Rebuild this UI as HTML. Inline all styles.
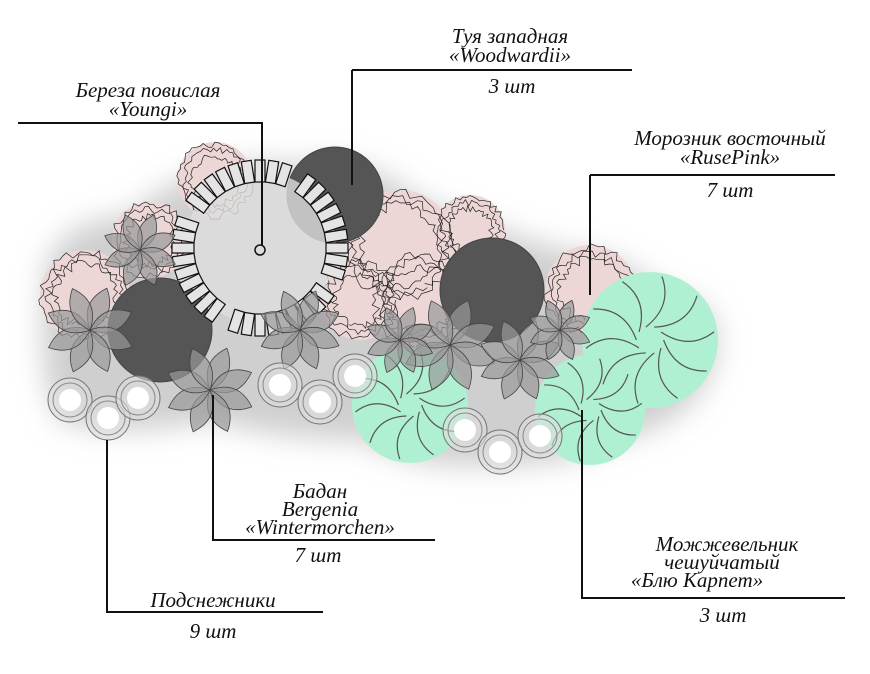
<!DOCTYPE html>
<html><head><meta charset="utf-8"><style>
html,body{margin:0;padding:0;background:#fff;width:870px;height:674px;overflow:hidden}
svg{display:block}
text{font-family:"Liberation Serif",serif;font-style:italic;font-size:21px;fill:#111}
</style></head><body>
<svg id="s" width="870" height="674" viewBox="0 0 870 674" xmlns="http://www.w3.org/2000/svg">
<defs>
<filter id="b" x="-20%" y="-20%" width="140%" height="140%"><feGaussianBlur stdDeviation="14"/></filter>
</defs>
<path d="M45 270 Q60 220 130 215 Q200 150 300 165 Q360 150 420 200 Q500 230 560 250 Q620 250 660 290 Q730 300 715 360 Q700 420 620 440 Q560 470 480 465 Q420 470 360 440 Q280 440 210 420 Q120 440 60 420 Q35 380 45 270Z" fill="#cfcfcf" filter="url(#b)"/>
<g id="pink" fill="#ecd6d6">
<circle cx="85" cy="295" r="45"/><circle cx="150" cy="240" r="38"/><circle cx="215" cy="180" r="38"/>
<circle cx="400" cy="245" r="55"/><circle cx="420" cy="300" r="48"/><circle cx="590" cy="290" r="45"/>
<circle cx="470" cy="230" r="35"/><circle cx="360" cy="300" r="40"/>
</g>
<g id="scrib" fill="none" stroke="#222" stroke-width="0.7"></g>
<g fill="#555" stroke="#444">
<circle cx="335" cy="195" r="48"/><circle cx="160" cy="330" r="52"/><circle cx="492" cy="290" r="52"/>
</g>
<g id="birch"><circle cx="260" cy="248" r="76" fill="#ddd" fill-opacity="0.8"/></g>
<g id="green" fill="#b0f0d2">
<circle cx="650" cy="340" r="68"/><circle cx="410" cy="405" r="58"/><circle cx="590" cy="410" r="55"/>
</g>
<g id="swirl" fill="none" stroke="#555" stroke-width="1.2"></g>
<g id="stars" fill="#999" fill-opacity="0.7" stroke="#444" stroke-width="0.8"></g>
<g id="snow"></g>
<g stroke="#111" stroke-width="2" fill="none">
<path d="M352 70H632M352 70V185"/>
<path d="M18 123H262V246"/><circle cx="260" cy="250" r="5" stroke-width="1.5"/>
<path d="M590 175H835M590 175V295"/>
<path d="M213 395V540H435"/>
<path d="M107 440V612H323"/>
<path d="M582 410V598H845"/>
</g>
<text x="510" y="43" text-anchor="middle">Туя западная</text>
<text x="510" y="62" text-anchor="middle">«Woodwardii»</text>
<text x="512" y="93" text-anchor="middle">3 шт</text>
<text x="148" y="97" text-anchor="middle">Береза повислая</text>
<text x="148" y="116" text-anchor="middle">«Youngi»</text>
<text x="730" y="145" text-anchor="middle">Морозник восточный</text>
<text x="730" y="164" text-anchor="middle">«RusePink»</text>
<text x="730" y="197" text-anchor="middle">7 шт</text>
<text x="320" y="498" text-anchor="middle">Бадан</text>
<text x="320" y="516" text-anchor="middle">Bergenia</text>
<text x="320" y="534" text-anchor="middle">«Wintermorchen»</text>
<text x="318" y="562" text-anchor="middle">7 шт</text>
<text x="213" y="607" text-anchor="middle">Подснежники</text>
<text x="213" y="638" text-anchor="middle">9 шт</text>
<text x="727" y="551" text-anchor="middle">Можжевельник</text>
<text x="722" y="569" text-anchor="middle">чешуйчатый</text>
<text x="697" y="587" text-anchor="middle">«Блю Карпет»</text>
<text x="723" y="622" text-anchor="middle">3 шт</text>
</svg>
<script>
var NS="http://www.w3.org/2000/svg";
function el(p,t,a){var e=document.createElementNS(NS,t);for(var k in a)e.setAttribute(k,a[k]);p.appendChild(e);return e;}
var seed=7;function rnd(){seed=(seed*16807)%2147483647;return seed/2147483647;}
var sc=document.getElementById("scrib");
[[85,295,45],[150,240,38],[215,180,38],[400,245,55],[420,300,48],[590,290,45],[470,230,35],[360,300,40]].forEach(function(c){
for(var k=0;k<3;k++){var d="";for(var i=0;i<=60;i++){var a=i/60*6.283+k;var r=c[2]*(0.85+rnd()*0.2)-k*6;
d+=(i?"L":"M")+(c[0]+Math.cos(a)*r).toFixed(1)+" "+(c[1]+Math.sin(a)*r).toFixed(1);}
el(sc,"path",{d:d});}});
var b=document.getElementById("birch");
for(var i=0;i<40;i++){var a=i/40*360;if((i%10)==3)continue;
el(b,"rect",{x:-5,y:-88,width:10,height:22,fill:"#e4e4e4",stroke:"#111","stroke-width":1.2,transform:"translate(260 248) rotate("+a+")"});}
var sw=document.getElementById("swirl");
[[650,340,68],[410,405,58],[590,410,55]].forEach(function(c){
for(var k=0;k<10;k++){var a=k/10*6.283;var r1=c[2]*0.2,r2=c[2]*0.95;
el(sw,"path",{d:"M"+(c[0]+Math.cos(a)*r1)+" "+(c[1]+Math.sin(a)*r1)+" Q"+(c[0]+Math.cos(a+0.9)*c[2]*0.6)+" "+(c[1]+Math.sin(a+0.9)*c[2]*0.6)+" "+(c[0]+Math.cos(a+0.5)*r2)+" "+(c[1]+Math.sin(a+0.5)*r2)});}});
var st=document.getElementById("stars");
[[90,330,45],[210,390,45],[300,330,42],[450,345,48],[520,360,42],[140,250,38],[560,330,32],[400,340,35]].forEach(function(s){
for(var j=0;j<8;j++){var a=j*45+22;
el(st,"path",{d:"M0 0 Q"+(-s[2]*0.45)+" "+(-s[2]*0.5)+" 0 "+(-s[2])+" Q"+(s[2]*0.45)+" "+(-s[2]*0.5)+" 0 0Z",transform:"translate("+s[0]+" "+s[1]+") rotate("+a+")"});}});
var sn=document.getElementById("snow");
[[70,400],[108,418],[138,398],[280,385],[320,402],[355,376],[465,430],[500,452],[540,436]].forEach(function(p){
el(sn,"circle",{cx:p[0],cy:p[1],r:22,fill:"#ddd","fill-opacity":0.6,stroke:"#777","stroke-width":1});
el(sn,"circle",{cx:p[0],cy:p[1],r:17,fill:"none",stroke:"#888","stroke-width":1});
el(sn,"circle",{cx:p[0],cy:p[1],r:11,fill:"#fff",stroke:"none"});});
</script>
</body></html>
